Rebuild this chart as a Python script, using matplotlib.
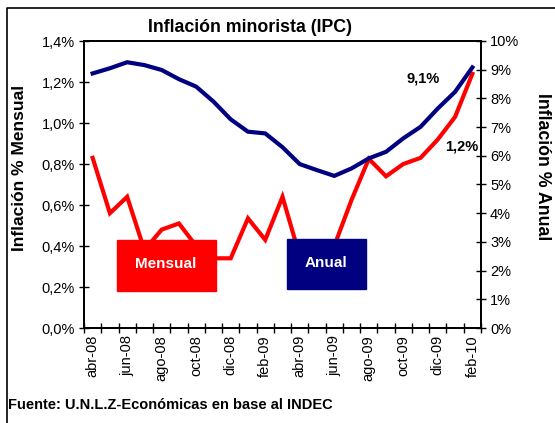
import numpy as np
import matplotlib.pyplot as plt
from matplotlib.lines import Line2D

plt.rcParams["font.family"] = ["Liberation Sans", "DejaVu Sans"]

months = ["abr-08", "may-08", "jun-08", "jul-08", "ago-08", "sep-08", "oct-08",
          "nov-08", "dic-08", "ene-09", "feb-09", "mar-09", "abr-09", "may-09",
          "jun-09", "jul-09", "ago-09", "sep-09", "oct-09", "nov-09", "dic-09",
          "ene-10", "feb-10"]
mensual = [0.83, 0.56, 0.64, 0.38, 0.48, 0.51, 0.40, 0.34, 0.34, 0.535, 0.43,
           0.64, 0.35, 0.33, 0.40, 0.625, 0.825, 0.74, 0.80, 0.83, 0.92,
           1.03, 1.24]
anual = [8.87, 9.05, 9.26, 9.16, 8.99, 8.67, 8.41, 7.89, 7.27, 6.84, 6.78,
         6.30, 5.71, 5.50, 5.30, 5.56, 5.91, 6.14, 6.61, 7.01, 7.65, 8.23, 9.08]

fig = plt.figure(figsize=(5.55, 4.23), dpi=100)
ax = fig.add_axes([84 / 555, 1 - 328 / 423, 397 / 555, 287 / 423])
ax2 = ax.twinx()

x = np.arange(len(months))
ax.plot(x, mensual, color="#ff0000", lw=3, solid_joinstyle="miter", zorder=3)
ax2.plot(x, anual, color="#000080", lw=3, solid_joinstyle="miter", zorder=3)

ax.set_xlim(-0.5, len(months) - 0.5)
ax.set_ylim(0, 1.4)
ax2.set_ylim(0, 10)

ax.set_yticks(np.arange(0, 1.41, 0.2))
ax.set_yticklabels([f"{v:.1f}%".replace(".", ",") for v in np.arange(0, 1.41, 0.2)])
ax2.set_yticks(range(0, 11))
ax2.set_yticklabels([f"{v}%" for v in range(0, 11)])

ax.set_xticks(x[::2])
ax.set_xticklabels(months[::2], rotation=90)
ax.set_xticks(np.arange(-0.5, len(months)), minor=True)
ax.tick_params(axis="x", which="major", length=0, labelsize=10.5, pad=5)
ax.tick_params(axis="x", which="minor", direction="inout", length=7, width=1)
ax.tick_params(axis="y", direction="inout", length=7, width=1, labelsize=10.5, pad=3)
ax2.tick_params(axis="y", direction="inout", length=7, width=1, labelsize=10.5, pad=3)

for a in (ax, ax2):
    for s in a.spines.values():
        s.set_linewidth(1.3)

fig.text(20 / 555, 1 - 168 / 423, "Inflación % Mensual", rotation=90, ha="center",
         va="center", fontsize=12.5, fontweight="bold")
fig.text(542 / 555, 1 - 167 / 423, "Inflación % Anual", rotation=-90, ha="center",
         va="center", fontsize=12.8, fontweight="bold")

fig.text(250 / 555, 1 - 28 / 423, "Inflación minorista (IPC)", ha="center",
         va="center", fontsize=12.8, fontweight="bold")

ax2.text(423 / 555, 1 - 78 / 423, "9,1%", transform=fig.transFigure, ha="center",
         va="center", fontsize=10.5, fontweight="bold")
ax2.text(462 / 555, 1 - 146 / 423, "1,2%", transform=fig.transFigure, ha="center",
         va="center", fontsize=10.5, fontweight="bold")

# legend boxes
fig.patches.append(plt.Rectangle((117 / 555, 1 - 291 / 423), 99 / 555, 51 / 423,
                                 transform=fig.transFigure, color="#ff0000", zorder=5))
fig.text(166 / 555, 1 - 264 / 423, "Mensual", ha="center", va="center",
         color="white", fontsize=11, fontweight="bold", zorder=6)
fig.patches.append(plt.Rectangle((287 / 555, 1 - 289 / 423), 79 / 555, 50 / 423,
                                 transform=fig.transFigure, color="#000080", zorder=5))
fig.text(326 / 555, 1 - 263 / 423, "Anual", ha="center", va="center",
         color="white", fontsize=11, fontweight="bold", zorder=6)

fig.text(8 / 555, 1 - 405 / 423, "Fuente: U.N.L.Z-Económicas en base al INDEC",
         ha="left", va="center", fontsize=10.5, fontweight="bold")

# outer frame (top and left)
fig.lines.append(Line2D([7 / 555, 7 / 555, 1], [0, 1 - 8 / 423, 1 - 8 / 423],
                        transform=fig.transFigure, color="black", lw=1.2))

fig.savefig("out.png", dpi=100)
